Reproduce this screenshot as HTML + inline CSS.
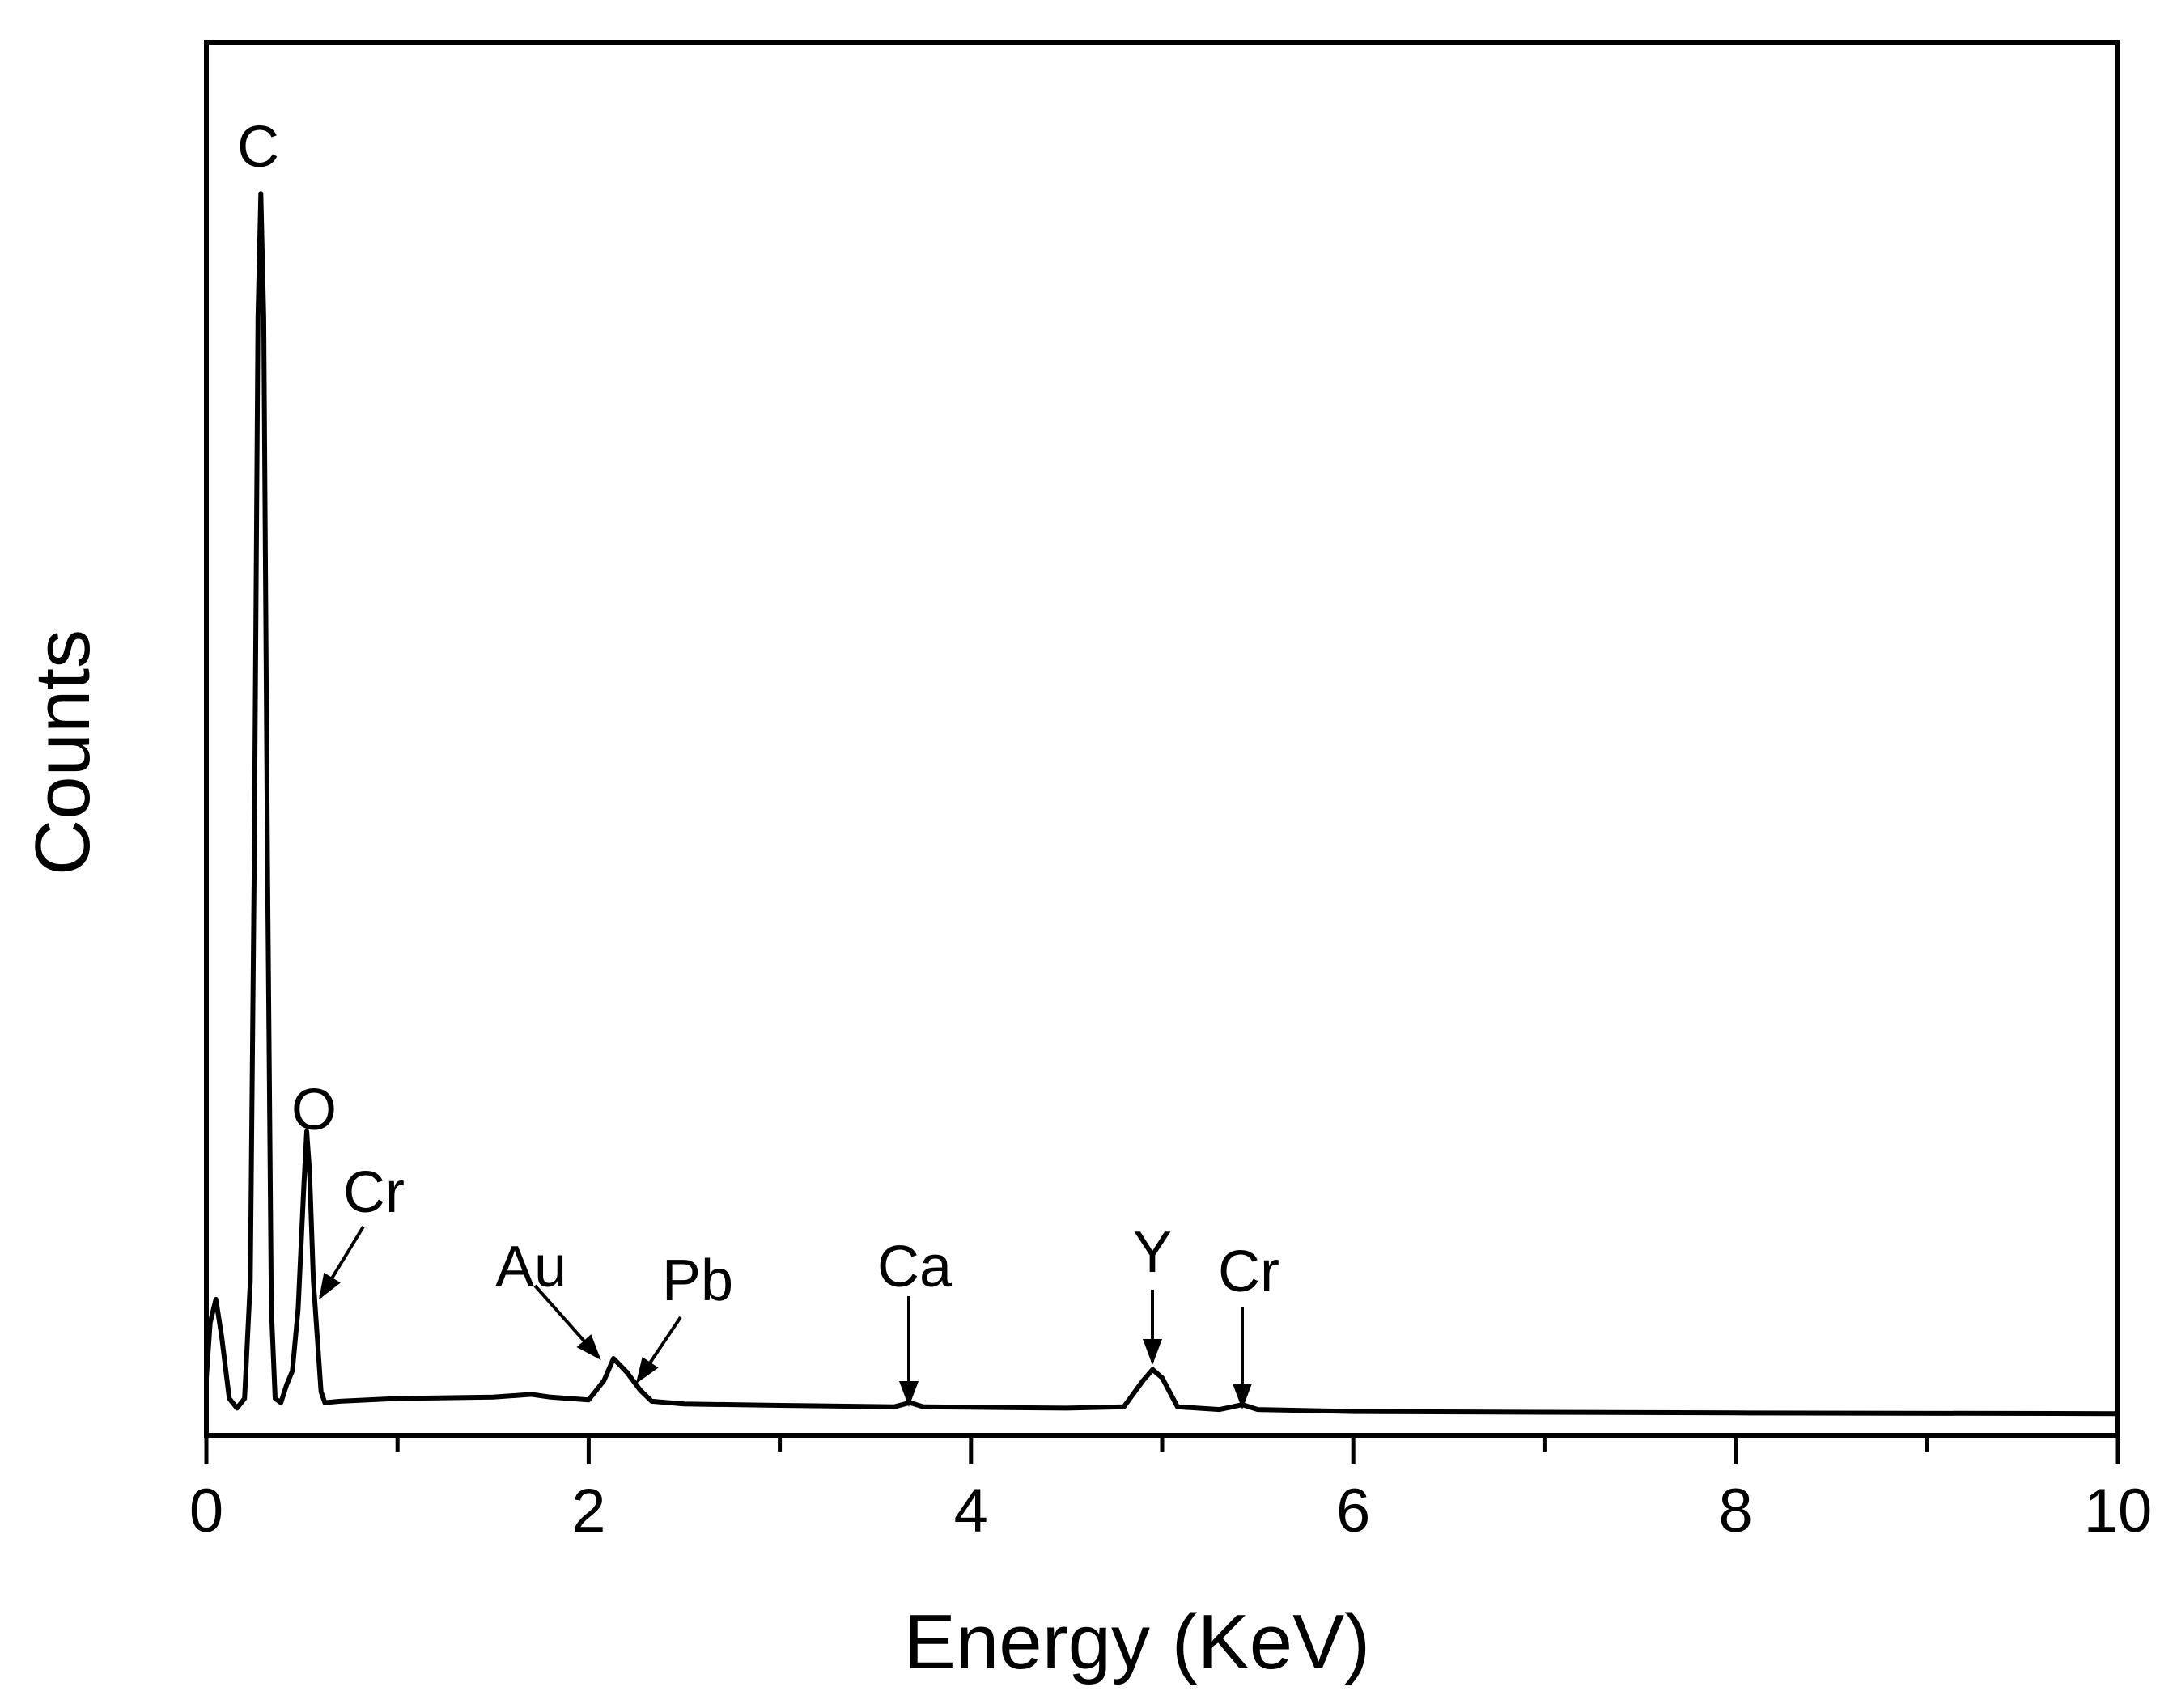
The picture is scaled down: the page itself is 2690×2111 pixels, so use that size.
<!DOCTYPE html>
<html><head><meta charset="utf-8"><style>
html,body{margin:0;padding:0;background:#fff;}
svg{display:block;font-family:"Liberation Sans",Arial,sans-serif;}
</style></head><body>
<svg id="chart" width="2690" height="2111" viewBox="0 0 2690 2111">
<defs><marker id="ah" markerWidth="8" markerHeight="8" refX="7" refY="4" orient="auto" markerUnits="strokeWidth"><path d="M0,1 L8,4 L0,7 Z" fill="#000"/></marker></defs>
<g id="plot"></g>
<rect x="255" y="52" width="2362" height="1722" fill="none" stroke="#000" stroke-width="6"/>
<g id="xticks"></g>
<text x="1405" y="2062" font-size="96" text-anchor="middle">Energy (KeV)</text>
<text transform="translate(110,930) rotate(-90)" font-size="96" text-anchor="middle">Counts</text>
<g id="annots" font-size="72" text-anchor="middle">
<text x="319" y="206">C</text>
<text x="388" y="1396">O</text>
<text x="462" y="1498">Cr</text>
<line x1="449" y1="1516" x2="396" y2="1603" stroke="#000" stroke-width="4" marker-end="url(#ah)"/>
<text x="656" y="1590">Au</text>
<line x1="661" y1="1589" x2="740" y2="1678" stroke="#000" stroke-width="4" marker-end="url(#ah)"/>
<text x="862" y="1607">Pb</text>
<line x1="841" y1="1628" x2="788" y2="1707" stroke="#000" stroke-width="4" marker-end="url(#ah)"/>
<text x="1130" y="1590">Ca</text>
<line x1="1123" y1="1602" x2="1123" y2="1735" stroke="#000" stroke-width="4" marker-end="url(#ah)"/>
<text x="1424" y="1572">Y</text>
<line x1="1424" y1="1594" x2="1424" y2="1683" stroke="#000" stroke-width="4" marker-end="url(#ah)"/>
<text x="1543" y="1596">Cr</text>
<line x1="1535" y1="1616" x2="1535" y2="1738" stroke="#000" stroke-width="4" marker-end="url(#ah)"/>
</g>
</svg>
<script>
const energies=[0.0,0.02,0.05,0.08,0.12,0.16,0.2,0.23,0.25,0.27,0.285,0.3,0.32,0.34,0.36,0.39,0.42,0.45,0.48,0.51,0.525,0.54,0.56,0.58,0.6,0.62,0.7,1.0,1.5,1.7,1.8,2.0,2.08,2.13,2.2,2.27,2.33,2.5,3.0,3.6,3.68,3.75,4.5,4.8,4.9,4.95,5.0,5.08,5.3,5.42,5.5,6,8,10];
const counts=[3,7,8.7,6,1.5,0.8,1.5,10,40,80,89,80,40,8,1.5,1.2,2.5,3.5,8,17,20.9,18,10,6,2,1.2,1.3,1.5,1.6,1.8,1.6,1.4,2.8,4.4,3.4,2.1,1.3,1.1,1.0,0.9,1.2,0.9,0.8,0.9,2.8,3.6,3.0,0.9,0.7,1.05,0.7,0.55,0.45,0.4];
const majorTicks=[0,2,4,6,8,10];
const minorTicks=[1,3,5,7,9];
const NS='http://www.w3.org/2000/svg';
function xs(e){return 255+e*236.2;}
function ys(c){return 1754-c*17.02;}
const plot=document.getElementById('plot');
const p=document.createElementNS(NS,'path');
p.setAttribute('d',energies.map((e,i)=>(i?'L':'M')+xs(e).toFixed(1)+','+ys(counts[i]).toFixed(1)).join(' '));
p.setAttribute('fill','none');p.setAttribute('stroke','#000');p.setAttribute('stroke-width','6');p.setAttribute('stroke-linejoin','round');


plot.appendChild(p);
const xt=document.getElementById('xticks');
majorTicks.forEach(t=>{
 const l=document.createElementNS(NS,'line');
 l.setAttribute('x1',xs(t));l.setAttribute('x2',xs(t));l.setAttribute('y1',1774);l.setAttribute('y2',1810);
 l.setAttribute('stroke','#000');l.setAttribute('stroke-width','5');
 
 
 xt.appendChild(l);
 const tx=document.createElementNS(NS,'text');
 tx.setAttribute('x',xs(t));tx.setAttribute('y',1893);tx.setAttribute('font-size','76');tx.setAttribute('text-anchor','middle');
 tx.textContent=t;
 
 
 xt.appendChild(tx);
});
minorTicks.forEach(t=>{
 const l=document.createElementNS(NS,'line');
 l.setAttribute('x1',xs(t));l.setAttribute('x2',xs(t));l.setAttribute('y1',1774);l.setAttribute('y2',1794);
 l.setAttribute('stroke','#000');l.setAttribute('stroke-width','5');
 
 
 xt.appendChild(l);
});
</script>
</body></html>
